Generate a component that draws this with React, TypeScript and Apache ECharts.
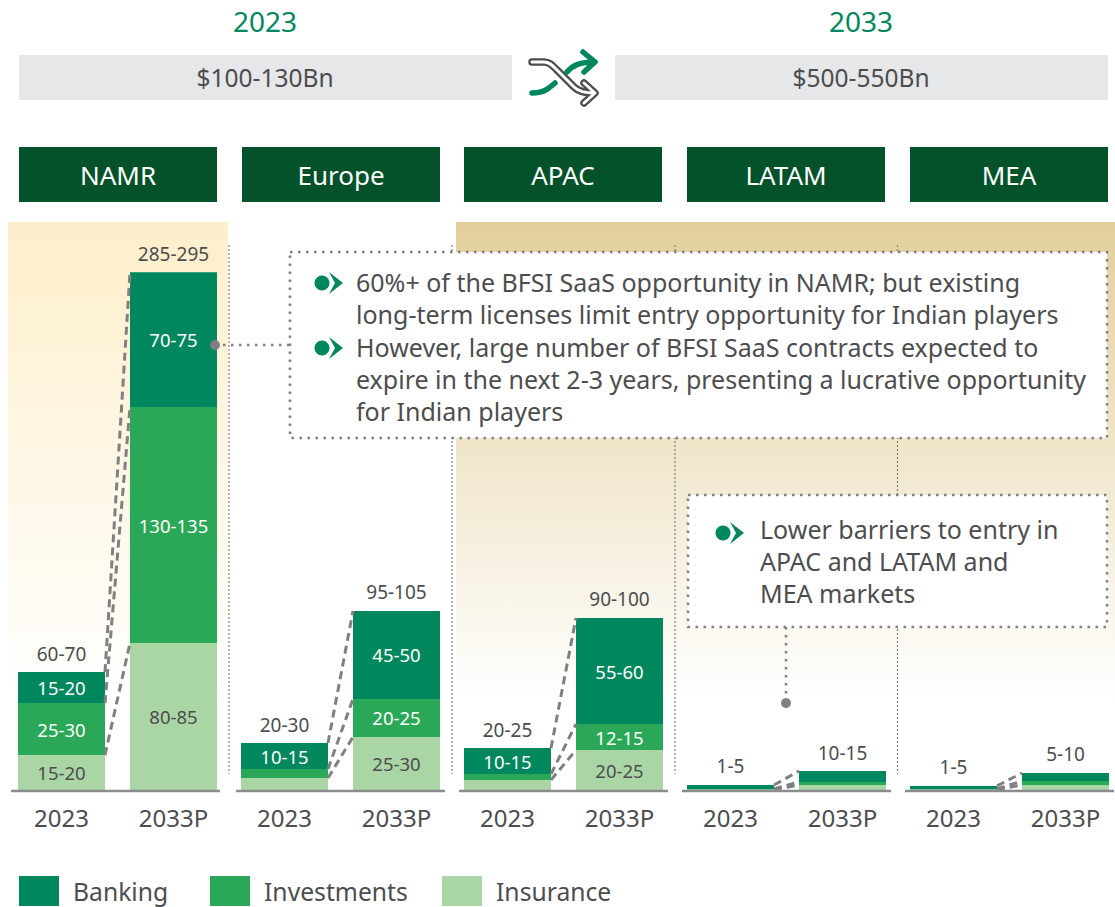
import React, { useEffect, useRef } from "react";
import * as echarts from "echarts";

const regions = ["NAMR", "Europe", "APAC", "LATAM", "MEA"];
const periods = ["2023", "2033P"];
const seriesNames = ["Banking", "Investments", "Insurance"];

const bankingValues = [[17.3, 75.3], [14.5, 49.1], [14.5, 59.2], [2.2, 6.1], [1.7, 4.5]];
const investmentValues = [[29, 131.7], [5, 21.2], [3.3, 14.5], [0.3, 1.7], [0.3, 2.2]];
const insuranceValues = [[19.5, 82], [6.7, 29.6], [5.6, 22.3], [0.3, 2.8], [0.3, 2.8]];

const bankingLabels = [["15-20", "70-75"], ["10-15", "45-50"], ["10-15", "55-60"], ["", ""], ["", ""]];
const investmentLabels = [["25-30", "130-135"], ["", "20-25"], ["", "12-15"], ["", ""], ["", ""]];
const insuranceLabels = [["15-20", "80-85"], ["", "25-30"], ["", "20-25"], ["", ""], ["", ""]];
const totalLabels = [["60-70", "285-295"], ["20-30", "95-105"], ["20-25", "90-100"], ["1-5", "10-15"], ["1-5", "5-10"]];

const headerYears = ["2023", "2033"];
const headerMarkets = ["$100-130Bn", "$500-550Bn"];
const callout1 = [
  "60%+ of the BFSI SaaS opportunity in NAMR; but existing",
  "long-term licenses limit entry opportunity for Indian players",
  "However, large number of BFSI SaaS contracts expected to",
  "expire in the next 2-3 years, presenting a lucrative opportunity",
  "for Indian players",
];
const callout2 = ["Lower barriers to entry in", "APAC and LATAM and", "MEA markets"];

const FONT = "'Noto Sans', sans-serif";
const TEXT = "#4d4d4f";
const C_BANK = "#00875d";
const C_INV = "#2aa857";
const C_INS = "#aad5a4";
const C_HEAD = "#03522a";
const GREY = "#808082";

const GRID_LEFTS = [61.5, 284.5, 507.5, 730.5, 953.5];
const BOX_LEFTS = [19, 242, 464, 687, 910];
const AXIS_LEFTS = [11, 236, 459, 682, 905];
const DIVIDERS = [229, 452, 675, 897.5];

const lineText = (text: string, x: number, y: number, size: number, fill = TEXT, align = "left", z = 12) => ({
  type: "text",
  x,
  y,
  z,
  style: { text, fill, font: `${size}px ${FONT}`, textAlign: align, textVerticalAlign: "middle" },
});

const bullet = (cx: number, cy: number) => [
  { type: "circle", z: 12, shape: { cx, cy, r: 7.5 }, style: { fill: C_BANK } },
  {
    type: "polygon",
    z: 12,
    shape: { points: [[cx + 7, cy - 11], [cx + 21, cy], [cx + 7, cy + 11], [cx + 13, cy]] },
    style: { fill: C_BANK },
  },
];

const dotted = { stroke: GREY, lineWidth: 2.5, lineDash: [2.5, 5.5] };

function buildOption() {
  const grids = regions.map((_, i) => ({ left: GRID_LEFTS[i], width: 112, top: 222, height: 568 }));
  const xAxes = regions.map((_, i) => ({
    type: "category",
    gridIndex: i,
    data: periods,
    boundaryGap: false,
    axisLine: { show: false },
    axisTick: { show: false },
    axisLabel: { color: TEXT, fontFamily: FONT, fontSize: 24, margin: 15, interval: 0 },
  }));
  const yAxes = regions.map((_, i) => ({ type: "value", gridIndex: i, min: 0, max: 317, show: false }));

  const stacks = [
    { name: "Insurance", values: insuranceValues, labels: insuranceLabels, color: C_INS, labelColor: TEXT },
    { name: "Investments", values: investmentValues, labels: investmentLabels, color: C_INV, labelColor: "#fff" },
    { name: "Banking", values: bankingValues, labels: bankingLabels, color: C_BANK, labelColor: "#fff" },
  ];

  const series: any[] = [];
  regions.forEach((region, i) => {
    stacks.forEach((s) => {
      series.push({
        type: "bar",
        name: s.name,
        stack: region,
        xAxisIndex: i,
        yAxisIndex: i,
        barWidth: 87,
        clip: false,
        itemStyle: { color: s.color },
        data: s.values[i],
        label: {
          show: true,
          position: "inside",
          color: s.labelColor,
          fontFamily: FONT,
          fontSize: 18.5,
          formatter: (p: any) => s.labels[i][p.dataIndex],
        },
      });
    });
    const cum = periods.map((_, k) => {
      const a = insuranceValues[i][k];
      const b = a + investmentValues[i][k];
      const c = b + bankingValues[i][k];
      return [a, b, c];
    });
    series.push({
      type: "scatter",
      name: "Total",
      xAxisIndex: i,
      yAxisIndex: i,
      symbolSize: 0,
      silent: true,
      clip: false,
      z: 4,
      itemStyle: { opacity: 1 },
      data: cum.map((c) => c[2]),
      label: {
        show: true,
        position: "top",
        distance: 9,
        color: TEXT,
        fontFamily: FONT,
        fontSize: 19,
        formatter: (p: any) => totalLabels[i][p.dataIndex],
      },
    });
    series.push({
      type: "custom",
      name: "Connector",
      xAxisIndex: i,
      yAxisIndex: i,
      silent: true,
      clip: false,
      z: 3,
      data: [0, 1, 2].map((n) => [0, cum[0][n], cum[1][n]]),
      renderItem: (_p: any, api: any) => {
        const half = 43.5;
        const from = api.coord([0, api.value(1)]);
        const to = api.coord([1, api.value(2)]);
        return {
          type: "line",
          shape: { x1: from[0] + half, y1: from[1], x2: to[0] - half, y2: to[1] },
          style: { stroke: GREY, lineWidth: 3, lineDash: [8, 5], fill: "none" },
        };
      },
    });
  });

  const graphicEls: any[] = [];
  // backgrounds
  graphicEls.push({
    type: "rect",
    z: 0,
    shape: { x: 8, y: 222, width: 220, height: 480 },
    style: {
      fill: new echarts.graphic.LinearGradient(0, 0, 0, 1, [
        { offset: 0, color: "#feefcb" },
        { offset: 1, color: "#ffffff" },
      ]),
    },
  });
  graphicEls.push({
    type: "rect",
    z: 0,
    shape: { x: 456, y: 222, width: 659, height: 480 },
    style: {
      fill: new echarts.graphic.LinearGradient(0, 0, 0, 1, [
        { offset: 0, color: "#e2cf9b" },
        { offset: 1, color: "#ffffff" },
      ]),
    },
  });
  // dividers
  DIVIDERS.forEach((x) =>
    graphicEls.push({
      type: "line",
      z: 1,
      shape: { x1: x, y1: 245, x2: x, y2: 774 },
      style: { stroke: GREY, lineWidth: 1.2, lineDash: [2, 2] },
    })
  );
  // baselines
  AXIS_LEFTS.forEach((x) =>
    graphicEls.push({
      type: "line",
      z: 5,
      shape: { x1: x, y1: 791, x2: x + 209, y2: 791 },
      style: { stroke: "#8c8c8e", lineWidth: 2.5 },
    })
  );
  // top headers
  [265, 861].forEach((cx, i) => {
    graphicEls.push(lineText(headerYears[i], cx, 21, 28, C_BANK, "center"));
    graphicEls.push({
      type: "rect",
      z: 1,
      shape: { x: i === 0 ? 19 : 615, y: 55, width: 493, height: 45 },
      style: { fill: "#e6e7e9" },
    });
    graphicEls.push(lineText(headerMarkets[i], cx, 77.5, 24.5, TEXT, "center"));
  });
  // region headers
  regions.forEach((r, i) => {
    graphicEls.push({
      type: "rect",
      z: 1,
      shape: { x: BOX_LEFTS[i], y: 147, width: 198, height: 55 },
      style: { fill: C_HEAD },
    });
    graphicEls.push(lineText(r, BOX_LEFTS[i] + 99, 174.5, 26, "#ffffff", "center"));
  });
  // shuffle icon
  graphicEls.push({ type: "shuffleMain", z: 10, style: { fill: "none", stroke: "#4d4d4f", lineWidth: 7.5, lineCap: "round", lineJoin: "round" } });
  graphicEls.push({ type: "shuffleMain", z: 11, style: { fill: "none", stroke: "#ffffff", lineWidth: 3, lineCap: "round", lineJoin: "round" } });
  graphicEls.push({ type: "shuffleGreen", z: 11, style: { fill: "none", stroke: C_BANK, lineWidth: 5.5, lineCap: "round", lineJoin: "round" } });
  // callout 1
  graphicEls.push({
    type: "rect",
    z: 10,
    shape: { x: 290, y: 252, width: 817, height: 186 },
    style: { fill: "#ffffff", ...dotted },
  });
  graphicEls.push({ type: "line", z: 11, shape: { x1: 215, y1: 345, x2: 290, y2: 345 }, style: dotted });
  graphicEls.push({ type: "circle", z: 11, shape: { cx: 215, cy: 345, r: 5 }, style: { fill: GREY } });
  [282, 314, 347, 379, 411].forEach((y, i) => graphicEls.push(lineText(callout1[i], 356, y, 25)));
  graphicEls.push(...bullet(322, 283), ...bullet(322, 348));
  // callout 2
  graphicEls.push({
    type: "rect",
    z: 10,
    shape: { x: 688, y: 495, width: 419, height: 132 },
    style: { fill: "#ffffff", ...dotted },
  });
  graphicEls.push({ type: "line", z: 11, shape: { x1: 786, y1: 627, x2: 786, y2: 703 }, style: dotted });
  graphicEls.push({ type: "circle", z: 11, shape: { cx: 786, cy: 703, r: 5 }, style: { fill: GREY } });
  [529, 561, 593].forEach((y, i) => graphicEls.push(lineText(callout2[i], 760, y, 25)));
  graphicEls.push(...bullet(723, 533));

  const legendLefts = [19, 210, 442];
  return {
    animation: false,
    backgroundColor: "#ffffff",
    grid: grids,
    xAxis: xAxes,
    yAxis: yAxes,
    series,
    legend: seriesNames.map((n, i) => ({
      data: [n],
      left: legendLefts[i],
      top: 876,
      padding: 0,
      itemWidth: 40,
      itemHeight: 30,
      icon: "rect",
      selectedMode: false,
      textStyle: { color: TEXT, fontFamily: FONT, fontSize: 24.7, padding: [0, 0, 0, 9] },
    })),
    graphic: { elements: graphicEls },
  };
}

export default function App() {
  const ref = useRef<HTMLDivElement>(null);
  useEffect(() => {
    document.body.style.margin = "0";
    echarts.graphic.registerShape(
      "shuffleMain",
      echarts.graphic.extendPath(
        "M532 62 L544 62 C550 62 553 66 557 70 L574 87 C578 91 583 93 594 93 M584 83 L595 93 L584 103",
        {}
      )
    );
    echarts.graphic.registerShape(
      "shuffleGreen",
      echarts.graphic.extendPath(
        "M532 93 C545 93 549 88 555 83 M567 72 C573 65 580 62 595 62 M583 52 L595 62 L584 72",
        {}
      )
    );
    const chart = echarts.init(ref.current!, undefined, { renderer: "svg" });
    chart.setOption(buildOption() as any);
    return () => chart.dispose();
  }, []);
  return <div ref={ref} style={{ position: "absolute", left: 0, top: 0, width: 1115, height: 907 }} />;
}
